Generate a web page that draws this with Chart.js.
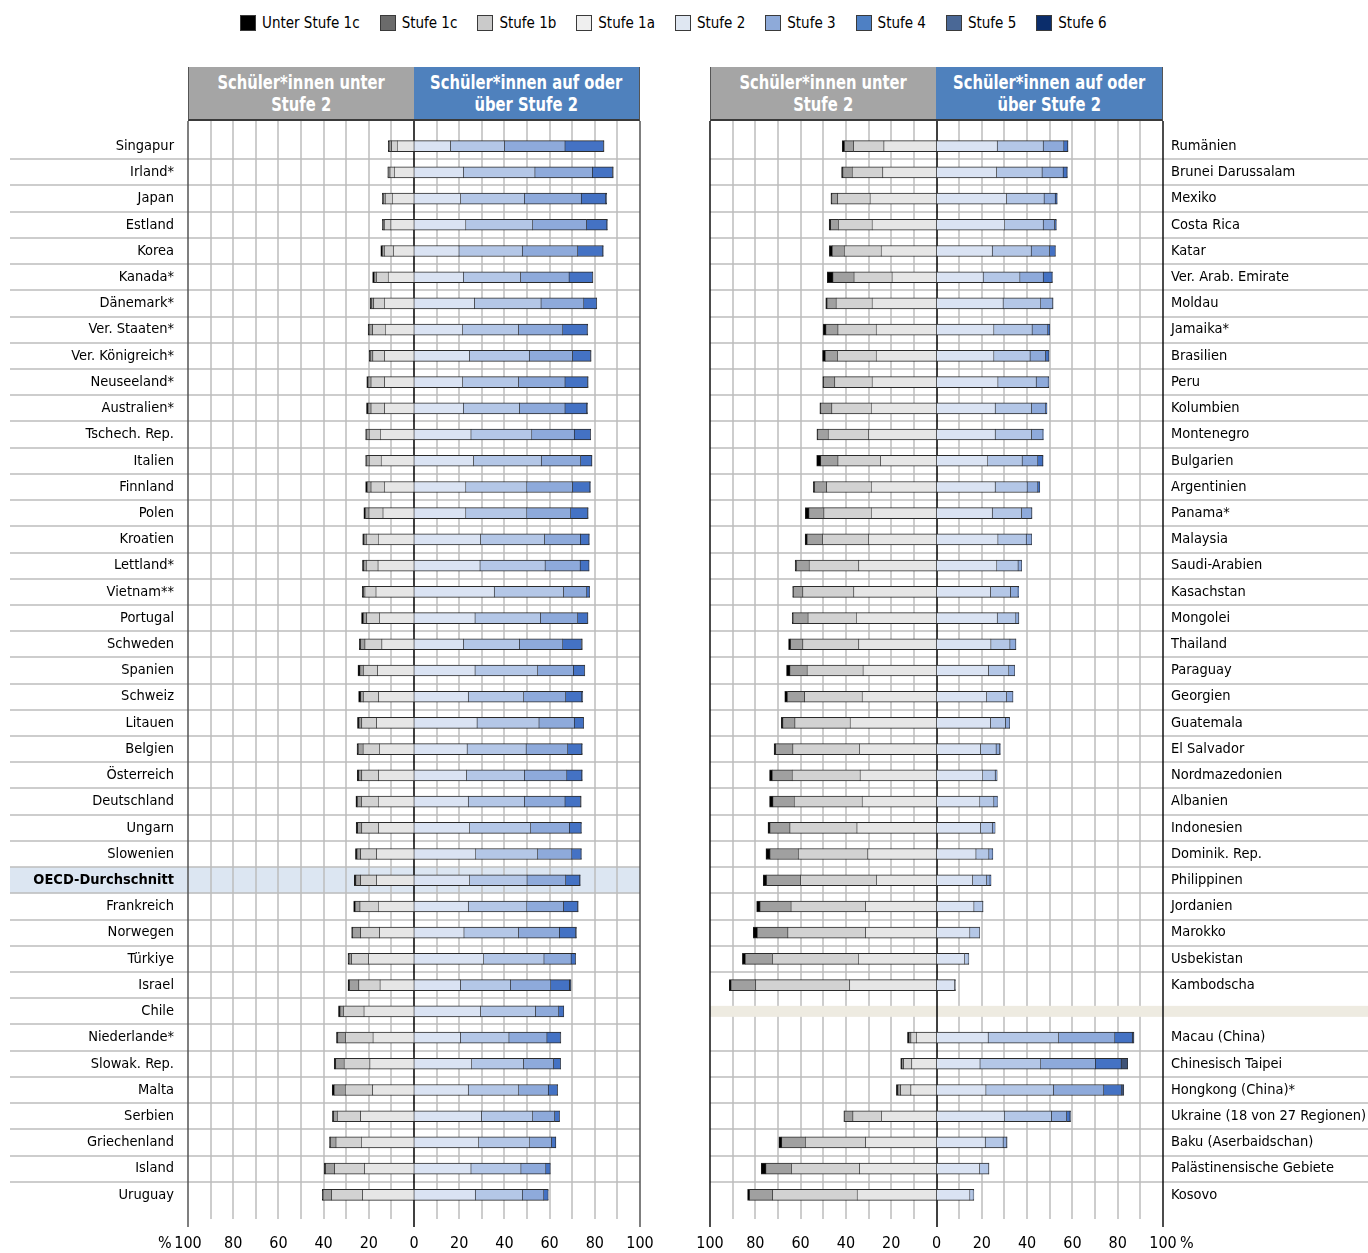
<!DOCTYPE html>
<html lang="de">
<head>
<meta charset="utf-8">
<title>Kompetenzstufen Lesen</title>
<script src="https://cdn.jsdelivr.net/npm/chart.js@4.4.1/dist/chart.umd.min.js"></script>
<style>
  body { margin: 0; background: #fff; }
  #page { position: relative; width: 1368px; height: 1253px; overflow: hidden;
          font-family: 'Liberation Sans Narrow', 'Arial Narrow', 'DejaVu Sans Condensed', sans-serif; color: #000; }
  #legend { position: absolute; left: 240px; top: 13px; display: flex; align-items: center; font-size: 15px; line-height: 20px; }
  .item { display: flex; align-items: center; margin-right: 20px; }
  .sw { width: 14px; height: 14px; border: 1px solid #3a3a3a; margin-right: 6px; }
  .hdr { position: absolute; top: 67px; height: 54px; color: #fff; font-weight: bold; font-size: 20px; line-height: 22px;
         display: flex; align-items: center; justify-content: center; text-align: center; box-sizing: border-box;
         border-bottom: 2px solid #3a3a3a; white-space: nowrap; }
  .hdr span { display: inline-block; transform: scaleX(0.82); }
  .grey { background: #a5a5a5; border-left: 1.5px solid #555; }
  .blue { background: #4f81bd; border-right: 1.5px solid #555; }
  canvas { position: absolute; top: 60px; }
  .pct { position: absolute; top: 1233px; font-size: 16px; line-height: 20px; }
</style>
</head>
<body>
<div id="page">
  <div id="legend"></div>

  <div class="hdr grey" style="left:188px;width:226px"><span>Schüler*innen unter<br>Stufe 2</span></div>
  <div class="hdr blue" style="left:414px;width:226px"><span>Schüler*innen auf oder<br>über Stufe 2</span></div>
  <div class="hdr grey" style="left:710px;width:226px"><span>Schüler*innen unter<br>Stufe 2</span></div>
  <div class="hdr blue" style="left:936px;width:227px"><span>Schüler*innen auf oder<br>über Stufe 2</span></div>

  <canvas id="left" width="680" height="1193" style="left:0"></canvas>
  <canvas id="right" width="678" height="1193" style="left:690px"></canvas>

  <span class="pct" style="left:158px">%</span>
  <span class="pct" style="left:1180px">%</span>
</div>

<script>
// Anteile der Schüler*innen je Kompetenzstufe (in %)
const levelNames = ["Unter Stufe 1c", "Stufe 1c", "Stufe 1b", "Stufe 1a", "Stufe 2", "Stufe 3", "Stufe 4", "Stufe 5", "Stufe 6"]
const barColors = ["#000000", "#a0a0a0", "#d2d2d2", "#e6e6e6", "#dae3f3", "#b4c7e7", "#8eaadb", "#4472c4", "#3f5377"]
const legendColors = ["#000000", "#6b6b6b", "#cacaca", "#efefef", "#dfe7f2", "#8eaad9", "#4e80c4", "#4a6896", "#0b2d6b"]

const leftCountries = ["Singapur", "Irland*", "Japan", "Estland", "Korea", "Kanada*", "Dänemark*", "Ver. Staaten*",
  "Ver. Königreich*", "Neuseeland*", "Australien*", "Tschech. Rep.", "Italien", "Finnland", "Polen", "Kroatien",
  "Lettland*", "Vietnam**", "Portugal", "Schweden", "Spanien", "Schweiz", "Litauen", "Belgien", "Österreich",
  "Deutschland", "Ungarn", "Slowenien", "OECD-Durchschnitt", "Frankreich", "Norwegen", "Türkiye", "Israel", "Chile",
  "Niederlande*", "Slowak. Rep.", "Malta", "Serbien", "Griechenland", "Island", "Uruguay"]

const leftBelow1c = [0.4, 0.2, 0.5, 0.5, 0.7, 0.7, 0.6, 0.5, 0.5, 0.6, 0.7, 0.4, 0.4, 0.7, 0.7, 0.6, 0.6, 0.6, 0.8, 0.6, 0.9,
  0.9, 0.7, 0.6, 0.7, 0.7, 0.7, 0.7, 0.7, 0.7, 0.5, 0.5, 0.7, 0.7, 0.6, 0.7, 0.9, 0.6, 0.5, 0.6, 0.4]
const left1c = [1.1, 0.8, 0.8, 0.5, 0.9, 1.0, 1.0, 1.5, 1.1, 1.3, 1.3, 1.2, 1.2, 1.7, 1.6, 1.0, 1.1, 0.6, 1.5, 1.9, 1.5,
  1.2, 1.2, 2.1, 1.3, 1.8, 1.8, 1.6, 2.1, 2.1, 3.5, 1.1, 4.1, 1.5, 3.4, 3.7, 4.9, 1.6, 2.4, 4.0, 3.8]
const left1b = [2.5, 1.9, 3.1, 2.8, 4.0, 5.2, 4.7, 5.6, 5.2, 6.0, 6.0, 4.9, 5.3, 5.9, 6.2, 5.3, 5.2, 4.9, 5.6, 7.5, 6.3,
  6.8, 6.6, 7.2, 7.5, 7.4, 7.5, 7.1, 7.1, 8.1, 8.4, 7.5, 9.4, 9.1, 12.2, 11.4, 12.1, 10.3, 11.2, 13.3, 13.7]
const left1a = [7.4, 8.7, 9.6, 10.2, 9.1, 11.4, 13.1, 12.7, 13.0, 13.0, 13.0, 14.9, 14.5, 13.1, 13.7, 15.8, 15.9, 16.8, 15.3,
  14.2, 16.1, 15.6, 16.5, 15.3, 15.6, 15.8, 15.6, 16.5, 16.5, 15.8, 15.2, 20.1, 15.0, 22.1, 18.1, 19.5, 18.3, 23.6, 23.3, 21.8, 22.7]
const left2 = [16.1, 21.8, 20.6, 22.9, 19.9, 21.8, 26.7, 21.5, 24.5, 21.5, 21.8, 25.2, 26.3, 22.9, 22.9, 29.4, 29.2, 35.5, 27.0,
  21.8, 27.0, 24.0, 27.9, 23.5, 23.2, 24.0, 24.6, 27.3, 24.6, 24.0, 22.1, 30.8, 20.5, 29.4, 20.5, 25.5, 24.0, 29.8, 28.6, 25.2, 27.1]
const left3 = [23.9, 31.7, 28.2, 29.6, 28.0, 25.3, 29.5, 24.7, 26.5, 24.7, 24.8, 26.9, 30.0, 27.0, 27.0, 28.3, 28.8, 30.6, 28.9,
  24.8, 27.7, 24.5, 27.4, 26.1, 25.6, 24.8, 27.0, 27.4, 25.4, 25.9, 24.1, 26.7, 22.1, 24.3, 21.5, 22.9, 22.3, 22.7, 22.6, 22.1, 20.8]
const left4 = [26.8, 25.4, 25.2, 23.8, 24.5, 21.5, 18.9, 19.6, 19.1, 20.6, 20.2, 18.8, 17.4, 20.2, 19.4, 15.9, 15.5, 10.3, 16.5,
  19.2, 15.8, 18.6, 15.6, 18.4, 18.8, 18.0, 17.1, 15.1, 17.1, 16.2, 18.1, 12.0, 17.9, 10.3, 16.8, 13.3, 13.1, 9.7, 9.6, 11.0, 9.5]
const left5 = [17.0, 8.9, 10.8, 9.0, 11.1, 10.3, 5.6, 10.8, 8.0, 10.0, 9.6, 7.1, 4.9, 7.7, 7.5, 3.8, 3.9, 1.2, 4.4, 8.2, 4.9,
  7.1, 4.1, 6.2, 6.6, 6.8, 5.2, 4.1, 6.2, 6.3, 7.2, 1.9, 8.2, 2.2, 5.9, 3.1, 4.0, 2.1, 1.9, 1.9, 1.9]
const left6 = [0.3, 0.4, 0.5, 0.3, 0.3, 0.3, 0.2, 0.3, 0.3, 0.3, 0.4, 0.2, 0.2, 0.3, 0.3, 0.2, 0.1, 0.1, 0.2, 0.5, 0.2,
  0.5, 0.1, 0.3, 0.3, 0.4, 0.2, 0.2, 0.3, 0.3, 0.4, 0.1, 0.8, 0.1, 0.3, 0.1, 0.2, 0.1, 0.1, 0.1, 0.1]

// rechte Spalte, leere Zeile trennt die Teilnehmer ohne Landesebene
const rightCountries = ["Rumänien", "Brunei Darussalam", "Mexiko", "Costa Rica", "Katar", "Ver. Arab. Emirate", "Moldau",
  "Jamaika*", "Brasilien", "Peru", "Kolumbien", "Montenegro", "Bulgarien", "Argentinien", "Panama*", "Malaysia",
  "Saudi-Arabien", "Kasachstan", "Mongolei", "Thailand", "Paraguay", "Georgien", "Guatemala", "El Salvador",
  "Nordmazedonien", "Albanien", "Indonesien", "Dominik. Rep.", "Philippinen", "Jordanien", "Marokko", "Usbekistan",
  "Kambodscha", "", "Macau (China)", "Chinesisch Taipei", "Hongkong (China)*", "Ukraine (18 von 27 Regionen)",
  "Baku (Aserbaidschan)", "Palästinensische Gebiete", "Kosovo"]
const gapRow = 33

const rightBelow1c = [1.0, 0.6, 0.4, 0.7, 1.3, 2.5, 0.6, 1.2, 1.2, 0.4, 0.4, 0.4, 1.8, 0.6, 1.6, 0.9, 0.6, 0.4, 0.4, 0.9, 1.5,
  1.2, 0.7, 0.7, 1.2, 1.5, 0.9, 1.8, 1.5, 1.5, 1.8, 1.3, 0.8, null, 0.7, 0.6, 0.7, 0.3, 1.3, 2.1, 0.9]
const right1c = [4.0, 4.1, 2.6, 3.4, 5.3, 9.3, 4.0, 5.3, 5.4, 4.9, 4.9, 4.6, 7.6, 5.3, 6.6, 6.8, 5.6, 4.1, 6.6, 5.4, 7.6,
  7.6, 5.3, 7.6, 8.8, 9.4, 8.8, 12.5, 15.0, 13.7, 13.5, 12.0, 10.9, null, 0.8, 0.7, 1.2, 3.7, 10.4, 11.3, 10.2]
const right1b = [13.4, 13.5, 14.3, 14.9, 16.3, 16.8, 15.9, 16.9, 17.1, 16.5, 17.4, 17.9, 18.8, 19.7, 20.9, 20.4, 21.9, 22.5,
  21.3, 24.7, 24.7, 25.4, 24.4, 29.4, 30.0, 30.0, 29.6, 30.7, 33.5, 32.9, 34.3, 37.9, 41.5, null, 2.4, 3.6, 4.5, 12.6, 26.6, 30.1, 37.3]
const right1a = [23.2, 23.7, 29.3, 28.4, 24.4, 19.6, 28.4, 26.6, 26.6, 28.4, 28.8, 29.9, 24.7, 28.8, 28.8, 29.9, 34.3, 36.5,
  35.4, 34.3, 32.4, 32.8, 38.1, 34.0, 33.7, 32.8, 35.1, 30.3, 26.5, 31.3, 31.3, 34.5, 38.3, null, 8.9, 10.9, 11.3, 24.3, 31.3, 33.9, 35.0]
const right2 = [26.8, 26.5, 30.9, 30.1, 24.6, 20.6, 29.4, 25.3, 25.3, 27.1, 25.9, 25.9, 22.6, 25.9, 24.6, 27.1, 26.6, 23.8,
  26.8, 24.0, 22.9, 22.1, 23.8, 19.4, 20.4, 19.1, 19.4, 17.4, 15.9, 16.5, 14.7, 12.4, 7.9, null, 22.8, 19.2, 21.8, 29.9, 21.5, 19.0, 14.7]
const right3 = [20.3, 20.1, 16.6, 17.0, 17.2, 16.2, 16.6, 16.9, 16.0, 16.9, 16.0, 16.0, 15.2, 14.1, 12.9, 12.5, 9.4, 8.8, 8.2,
  8.4, 9.0, 8.8, 6.6, 6.9, 5.5, 6.2, 5.2, 5.7, 6.2, 3.9, 4.3, 1.6, 0.5, null, 31.1, 26.8, 29.8, 20.8, 7.9, 4.0, 1.5]
const right4 = [9.1, 9.3, 4.9, 5.0, 8.1, 10.3, 5.2, 6.9, 6.8, 5.3, 6.3, 5.1, 6.9, 4.7, 4.4, 2.3, 1.5, 3.4, 1.3, 2.6, 2.5, 2.8,
  1.8, 1.5, 0.9, 1.5, 1.3, 1.5, 1.5, 0.2, 0.1, 0.3, 0, null, 24.8, 24.1, 22.2, 6.7, 1.5, 0.2, 0.3]
const right5 = [1.7, 1.7, 0.8, 0.7, 2.5, 3.9, 0.3, 0.9, 1.5, 0.3, 0.6, 0.2, 2.2, 0.9, 0.3, 0.1, 0.1, 0.3, 0.1, 0.1, 0.1, 0.1,
  0.1, 0.4, 0, 0.1, 0, 0.3, 0.5, 0, 0, 0, 0, null, 7.7, 11.4, 7.9, 1.5, 0.3, 0, 0]
const right6 = [0.2, 0.2, 0.1, 0.1, 0.1, 0.2, 0, 0, 0.1, 0, 0, 0, 0.2, 0, 0, 0, 0, 0, 0, 0, 0, 0, 0, 0, 0, 0, 0, 0, 0, 0, 0,
  0, 0, null, 0.8, 2.9, 1.0, 0.3, 0, 0, 0]

const FONT = "'Liberation Sans Narrow', 'Arial Narrow', 'DejaVu Sans Condensed', sans-serif"
Chart.defaults.font.family = FONT
Chart.defaults.color = "#000"

// legend (one line above both panels)
const legendEl = document.getElementById("legend")
levelNames.forEach((name, i) => {
  const item = document.createElement("div")
  item.className = "item"
  item.innerHTML = `<span class="sw" style="background:${legendColors[i]}"></span>${name}`
  legendEl.appendChild(item)
})

// grid, row lines, highlight and gap band
const panelDecor = {
  id: "panelDecor",
  beforeDraw(chart, args, opts) {
    // highlight goes under the axis labels
    if (opts.highlight == null) return
    const { ctx, chartArea: a, scales: { y } } = chart
    const pitch = Math.abs(y.getPixelForValue(1) - y.getPixelForValue(0))
    const cy = y.getPixelForValue(opts.highlight)
    ctx.save()
    ctx.fillStyle = "#dce6f2"
    ctx.fillRect(opts.edge, cy - pitch / 2, a.right - opts.edge, pitch)
    ctx.restore()
  },
  beforeDatasetsDraw(chart, args, opts) {
    const { ctx, chartArea: a, scales: { x, y } } = chart
    const n = chart.data.labels.length
    const top = a.top - 12
    const bottom = a.bottom + 11
    const x0 = opts.side === "left" ? opts.edge : a.left
    const x1 = opts.side === "left" ? a.right : chart.width

    const line = (xa, ya, xb, yb) => {
      ctx.beginPath()
      ctx.moveTo(xa, ya)
      ctx.lineTo(xb, yb)
      ctx.stroke()
    }

    ctx.save()
    ctx.strokeStyle = "#bdbdbd"
    ctx.lineWidth = 1.5
    for (let v = -90; v <= 90; v += 10) {
      if (v === 0) continue
      const px = Math.round(x.getPixelForValue(v))
      line(px, top, px, bottom)
    }
    for (let i = 0; i < n - 1; i++) {
      if (i === opts.gap || i + 1 === opts.gap) continue
      const py = Math.round((y.getPixelForValue(i) + y.getPixelForValue(i + 1)) / 2)
      line(x0, py, x1, py)
    }

    if (opts.gap != null) {
      const cy = y.getPixelForValue(opts.gap)
      ctx.fillStyle = "#eeebe1"
      ctx.fillRect(a.left, cy - 5.5, chart.width - a.left, 11)
    }

    ctx.strokeStyle = opts.side === "left" ? "#555" : "#111"
    ;[-100, 100].forEach(v => {
      const px = Math.round(x.getPixelForValue(v))
      line(px, top, px, bottom + 8)
    })
    ctx.strokeStyle = "#000"
    const zx = Math.round(x.getPixelForValue(0))
    line(zx, top, zx, bottom + 8)
    ctx.restore()
  }
}

function buildDatasets(cols) {
  // negative side stacks outward from 0: 1a, 1b, 1c, unter 1c
  const order = [3, 2, 1, 0, 4, 5, 6, 7, 8]
  return order.map(i => ({
    label: levelNames[i],
    data: cols[i].map(v => (v == null ? null : i < 4 ? -v : v)),
    backgroundColor: barColors[i],
    borderColor: "#2b2b2b",
    borderWidth: { top: 1, bottom: 1, left: 0.6, right: 0.6 },
    borderSkipped: false,
    barThickness: 11,
    stack: "s"
  }))
}

function panel(id, labels, cols, side, decor) {
  return new Chart(document.getElementById(id), {
    type: "bar",
    data: { labels: labels, datasets: buildDatasets(cols) },
    options: {
      indexAxis: "y",
      responsive: false,
      animation: false,
      layout: {
        padding: side === "left"
          ? { top: 73, right: 40, left: 0, bottom: 0 }
          : { top: 73, right: 0, left: 20, bottom: 0 }
      },
      scales: {
        x: {
          stacked: true,
          min: -100,
          max: 100,
          grid: { display: false, drawTicks: false },
          border: { display: false },
          ticks: {
            stepSize: 20,
            autoSkip: false,
            maxRotation: 0,
            padding: 26,
            font: { size: 16 },
            callback: v => Math.abs(v)
          },
          afterFit: s => {
            s.height = 45
            s.paddingLeft = 0
            s.paddingRight = 0
          }
        },
        y: {
          stacked: true,
          position: side,
          grid: { display: false, drawTicks: false },
          border: { display: false },
          ticks: {
            autoSkip: false,
            padding: side === "left" ? 14 : 8,
            font: c => ({
              size: 14.5,
              weight: c.tick && c.tick.label === "OECD-Durchschnitt" ? "bold" : "normal"
            })
          },
          afterFit: s => { s.width = side === "left" ? 188 : 205 }
        }
      },
      plugins: {
        legend: { display: false },
        tooltip: { enabled: false },
        panelDecor: Object.assign({ side: side }, decor)
      }
    },
    plugins: [panelDecor]
  })
}

panel("left", leftCountries,
  [leftBelow1c, left1c, left1b, left1a, left2, left3, left4, left5, left6],
  "left", { edge: 10, highlight: leftCountries.indexOf("OECD-Durchschnitt"), gap: null })

panel("right", rightCountries,
  [rightBelow1c, right1c, right1b, right1a, right2, right3, right4, right5, right6],
  "right", { edge: null, highlight: null, gap: gapRow })
</script>
</body>
</html>
